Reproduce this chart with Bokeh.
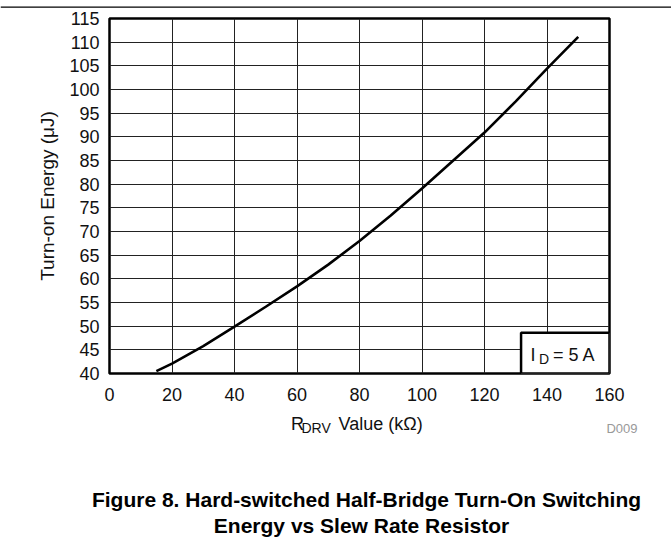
from bokeh.plotting import figure
from bokeh.layouts import column
from bokeh.models import FixedTicker, Label, BoxAnnotation, Range1d
from bokeh.embed import file_html
from bokeh.resources import INLINE

# ---- data ----
r_drv_kohm = [15, 20, 30, 40, 50, 60, 70, 80, 90, 100, 110, 120, 130, 140, 150]
energy_uj = [40.5, 42.1, 45.8, 49.9, 54.1, 58.4, 63.0, 68.0, 73.4, 79.1, 85.0, 90.9, 97.5, 104.4, 111.1]
x_ticks = [0, 20, 40, 60, 80, 100, 120, 140, 160]
y_ticks = [40, 45, 50, 55, 60, 65, 70, 75, 80, 85, 90, 95, 100, 105, 110, 115]

FONT = "Liberation Sans"
W = 671

# ---------- top rule ----------
p_top = figure(width=W, height=10, output_backend="svg", toolbar_location=None,
               x_range=Range1d(0, W), y_range=Range1d(10, 0),
               x_axis_type=None, y_axis_type=None, min_border=0, frame_align=False)
p_top.outline_line_color = None
p_top.grid.visible = False
p_top.add_layout(BoxAnnotation(top=4, bottom=5.2, fill_color="black", fill_alpha=1, line_color=None))

# ---------- main chart ----------
p = figure(width=W, height=400, output_backend="svg", toolbar_location=None,
           x_range=(0, 160), y_range=(40, 115), frame_align=False,
           min_border_left=109, min_border_right=62, min_border_top=8, min_border_bottom=37)

p.background_fill_color = "white"
p.border_fill_color = "white"
p.outline_line_color = "black"
p.outline_line_width = 2.5

for ax, t in ((p.xaxis, x_ticks), (p.yaxis, y_ticks)):
    ax.ticker = FixedTicker(ticks=t)
    ax.axis_line_color = None
    ax.major_tick_line_color = None
    ax.minor_tick_line_color = None
    ax.major_tick_in = 0
    ax.major_tick_out = 0
    ax.major_label_text_font = FONT
    ax.major_label_text_font_size = "18px"
    ax.major_label_text_color = "#111111"

p.xaxis.major_label_standoff = 14
p.yaxis.major_label_standoff = 10

p.yaxis.axis_label = "Turn-on Energy (\u03bcJ)"
p.yaxis.axis_label_text_font = FONT
p.yaxis.axis_label_text_font_size = "19px"
p.yaxis.axis_label_text_font_style = "normal"
p.yaxis.axis_label_text_color = "#111111"
p.yaxis.axis_label_standoff = 8

p.xgrid.ticker = FixedTicker(ticks=x_ticks)
p.ygrid.ticker = FixedTicker(ticks=y_ticks)
for g in (p.xgrid, p.ygrid):
    g.grid_line_color = "#222222"
    g.grid_line_width = 1
    g.grid_line_alpha = 1

p.line(r_drv_kohm, energy_uj, line_color="black", line_width=2.6)

# condition box (I_D = 5 A)
p.add_layout(BoxAnnotation(left=131.7, right=160, bottom=40, top=48.6,
                           fill_color="white", fill_alpha=1,
                           line_color="black", line_width=2.5, line_alpha=1))

# frame: left 109, bottom 373 in page px
def sx(px):
    return px - 109

def sy(py):
    return 373 - py

def flab(text, px, py, size):
    p.add_layout(Label(x=sx(px), y=sy(py), x_units="screen", y_units="screen",
                       text=text, text_font=FONT, text_font_size=size,
                       text_baseline="alphabetic", text_color="#111111"))

flab("I", 530, 354, "18px")
flab("D", 538.5, 358, "14px")
flab("= 5 A", 552.5, 354, "18px")

# ---------- bottom texts ----------
TOP_B = 410
HB = 541 - TOP_B
p_bot = figure(width=W, height=HB, output_backend="svg", toolbar_location=None,
               x_range=Range1d(0, W), y_range=Range1d(HB, 0), frame_align=False,
               x_axis_type=None, y_axis_type=None, min_border=0)
p_bot.outline_line_color = None
p_bot.grid.visible = False

def blab(text, px, py, size, style="normal", align="left", color="#111111"):
    p_bot.add_layout(Label(x=px, y=py - TOP_B, text=text, text_font=FONT,
                           text_font_size=size, text_font_style=style,
                           text_align=align, text_baseline="alphabetic",
                           text_color=color))

# x axis label with subscript
blab("R", 290.5, 423, "18px")
blab("DRV", 301, 427, "14px")
blab("Value (k\u03a9)", 338, 423, "18px")

# figure id
blab("D009", 637, 428, "13px", align="right", color="#999999")

# caption
blab("Figure 8. Hard-switched Half-Bridge Turn-On Switching", 366, 499, "21px",
     style="bold", align="center", color="black")
blab("Energy vs Slew Rate Resistor", 361, 525, "21px",
     style="bold", align="center", color="black")

layout = column(p_top, p, p_bot, spacing=0)
open("out.html", "w").write(file_html(layout, INLINE))
